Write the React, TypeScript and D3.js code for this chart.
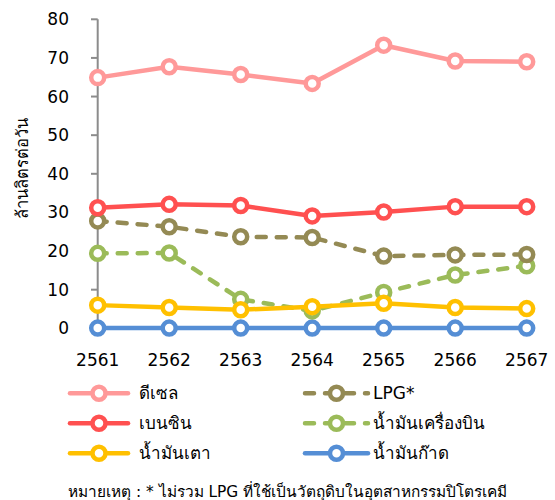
import React from "react";
import * as d3 from "d3";

const years = ["2561", "2562", "2563", "2564", "2565", "2566", "2567"];
const diesel = [64.9, 67.7, 65.7, 63.4, 73.3, 69.2, 69.0];
const benzin = [31.2, 32.1, 31.8, 29.1, 30.1, 31.5, 31.5];
const lpg = [27.8, 26.3, 23.7, 23.5, 18.7, 19.0, 19.1];
const jet = [19.4, 19.5, 7.5, 4.5, 9.3, 13.8, 16.2];
const fuelOil = [6.0, 5.4, 4.8, 5.6, 6.5, 5.4, 5.1];
const kerosene = [0.05, 0.05, 0.05, 0.05, 0.05, 0.05, 0.05];
const yTicks = [0, 10, 20, 30, 40, 50, 60, 70, 80];
const yTitle = "ล้านลิตรต่อวัน";
const footnote = "หมายเหตุ : * ไม่รวม LPG ที่ใช้เป็นวัตถุดิบในอุตสาหกรรมปิโตรเคมี";

const series = [
  { name: "ดีเซล", values: diesel, color: "#FF9999", dashed: false },
  { name: "เบนซิน", values: benzin, color: "#FF5050", dashed: false },
  { name: "น้ำมันเตา", values: fuelOil, color: "#FFC000", dashed: false },
  { name: "LPG*", values: lpg, color: "#948A54", dashed: true },
  { name: "น้ำมันเครื่องบิน", values: jet, color: "#9BBB59", dashed: true },
  { name: "น้ำมันก๊าด", values: kerosene, color: "#558ED5", dashed: false },
];
// draw order: back to front
const drawOrder = [5, 4, 3, 2, 1, 0];

const FONT = "Tahoma, 'DejaVu Sans', 'Noto Sans', sans-serif";

export default function App() {
  const W = 555, H = 500;
  const x = d3.scalePoint<string>().domain(years).range([97.7, 526.7]);
  const y = d3.scaleLinear().domain([0, 80]).range([328.3, 19.3]);
  const line = d3
    .line<number>()
    .x((_, i) => x(years[i]) as number)
    .y((d) => y(d));
  const dash = "9,11";

  return (
    <svg
      width={W}
      height={H}
      style={{ position: "absolute", left: 0, top: 0, background: "#fff" }}
      fontFamily={FONT}
    >
      {/* y axis */}
      <line x1={97.7} x2={97.7} y1={y(80)} y2={y(0)} stroke="#8c8c8c" strokeWidth={2} />
      {yTicks.map((t) => (
        <g key={t}>
          <line x1={91} x2={97.7} y1={y(t)} y2={y(t)} stroke="#8c8c8c" strokeWidth={2} />
          <text x={69} y={y(t)} dy="0.35em" textAnchor="end" fontSize={17} fill="#000">
            {t}
          </text>
        </g>
      ))}
      <text
        transform={`translate(22,168) rotate(-90)`}
        textAnchor="middle"
        dy="0.35em"
        fontSize={16.5}
        fill="#000"
      >
        {yTitle}
      </text>
      {/* x labels */}
      {years.map((yr) => (
        <text key={yr} x={x(yr)} y={360} dy="0.35em" textAnchor="middle" fontSize={17} fill="#000">
          {yr}
        </text>
      ))}
      {/* series */}
      {drawOrder.map((si) => {
        const s = series[si];
        return (
          <g key={s.name}>
            <path
              d={line(s.values) || ""}
              fill="none"
              stroke={s.color}
              strokeWidth={4.5}
              strokeLinecap="round"
              strokeLinejoin="round"
              strokeDasharray={s.dashed ? dash : undefined}
            />
            {s.values.map((v, i) => (
              <circle
                key={i}
                cx={x(years[i])}
                cy={y(v)}
                r={6.5}
                fill="#fff"
                stroke={s.color}
                strokeWidth={4.5}
              />
            ))}
          </g>
        );
      })}
      {/* legend */}
      {series.map((s, i) => {
        const col = i < 3 ? 0 : 1;
        const row = i % 3;
        const x0 = col === 0 ? 70 : 305;
        const x1 = col === 0 ? 128 : 368;
        const cy = 393.3 + row * 30;
        const tx = col === 0 ? 139 : 373;
        return (
          <g key={s.name}>
            <line
              x1={x0}
              x2={x1}
              y1={cy}
              y2={cy}
              stroke={s.color}
              strokeWidth={4.5}
              strokeLinecap="round"
              strokeDasharray={s.dashed ? dash : undefined}
            />
            <circle cx={(x0 + x1) / 2} cy={cy} r={6.5} fill="#fff" stroke={s.color} strokeWidth={4.5} />
            <text x={tx} y={cy} dy="0.35em" fontSize={17} fill="#000">
              {s.name}
            </text>
          </g>
        );
      })}
      <text x={68} y={492} dy="0.35em" fontSize={15.4} fill="#000">
        {footnote}
      </text>
    </svg>
  );
}
